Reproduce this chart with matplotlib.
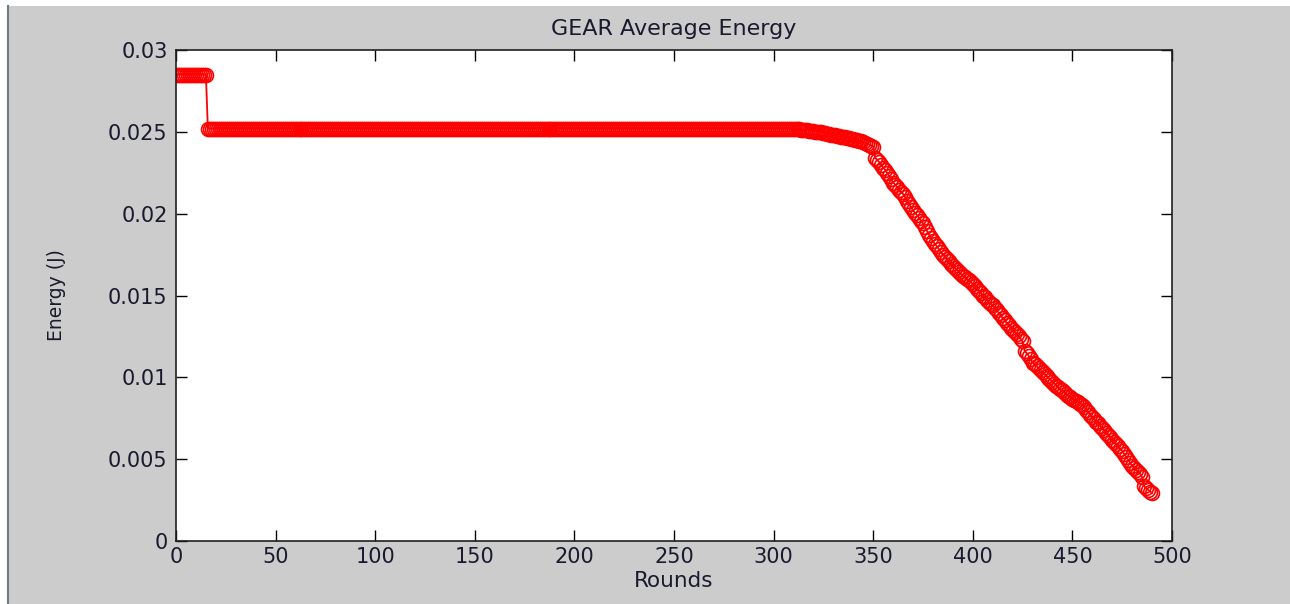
import matplotlib
matplotlib.use("Agg")
import matplotlib.pyplot as plt
from matplotlib.patches import Rectangle
from matplotlib.lines import Line2D
import numpy as np

plt.rcParams['font.family'] = ['DejaVu Sans']

title = "GEAR Average Energy"
x_label = "Rounds"
y_label = "Energy (J)"
x_ticks = [0, 50, 100, 150, 200, 250, 300, 350, 400, 450, 500]
y_ticks = [0, 0.005, 0.01, 0.015, 0.02, 0.025, 0.03]
y_tick_labels = ["0", "0.005", "0.01", "0.015", "0.02", "0.025", "0.03"]

# rounds 0-15 and 16-309 sit at flat levels
energy_start = [0.0285] * 16
energy_flat = [0.0252] * 294
# rounds 310-490
energy_tail = [
    0.02520, 0.02519, 0.02518, 0.02516, 0.02514, 0.02513, 0.02511, 0.02509, 0.02508, 0.02506,
    0.02505, 0.02502, 0.02500, 0.02498, 0.02496, 0.02494, 0.02491, 0.02489, 0.02486, 0.02483,
    0.02480, 0.02478, 0.02475, 0.02473, 0.02470, 0.02468, 0.02466, 0.02463, 0.02460, 0.02457,
    0.02455, 0.02452, 0.02448, 0.02445, 0.02442, 0.02439, 0.02434, 0.02428, 0.02422, 0.02416,
    0.02410, 0.02340, 0.02330, 0.02315, 0.02298, 0.02282, 0.02268, 0.02250, 0.02230, 0.02210,
    0.02190, 0.02178, 0.02162, 0.02145, 0.02132, 0.02120, 0.02102, 0.02080, 0.02060, 0.02040,
    0.02020, 0.02005, 0.01990, 0.01975, 0.01958, 0.01940, 0.01918, 0.01895, 0.01872, 0.01850,
    0.01830, 0.01815, 0.01800, 0.01782, 0.01765, 0.01750, 0.01738, 0.01722, 0.01708, 0.01694,
    0.01680, 0.01668, 0.01656, 0.01645, 0.01632, 0.01620, 0.01612, 0.01600, 0.01592, 0.01582,
    0.01570, 0.01556, 0.01542, 0.01528, 0.01515, 0.01500, 0.01488, 0.01475, 0.01462, 0.01450,
    0.01440, 0.01425, 0.01410, 0.01395, 0.01378, 0.01362, 0.01348, 0.01332, 0.01318, 0.01304,
    0.01290, 0.01278, 0.01265, 0.01250, 0.01236, 0.01220, 0.01162, 0.01148, 0.01132, 0.01110,
    0.01090, 0.01080, 0.01068, 0.01055, 0.01042, 0.01030, 0.01020, 0.01008, 0.00996, 0.00984,
    0.00972, 0.00962, 0.00950, 0.00940, 0.00930, 0.00920, 0.00910, 0.00898, 0.00888, 0.00878,
    0.00870, 0.00862, 0.00855, 0.00848, 0.00840, 0.00832, 0.00818, 0.00800, 0.00786, 0.00772,
    0.00760, 0.00745, 0.00730, 0.00718, 0.00705, 0.00690, 0.00676, 0.00662, 0.00650, 0.00636,
    0.00620, 0.00606, 0.00592, 0.00578, 0.00564, 0.00550, 0.00532, 0.00514, 0.00496, 0.00478,
    0.00460, 0.00448, 0.00436, 0.00424, 0.00410, 0.00390, 0.00335, 0.00322, 0.00312, 0.00302,
    0.00294,
]

energy = np.array(energy_start + energy_flat + energy_tail)
rounds = np.arange(len(energy))

W, H = 1290, 604
fig = plt.figure(figsize=(W / 100, H / 100), dpi=100, facecolor="white")

# grey MATLAB window background with thin white strip on top/left
fig.patches.append(Rectangle((8 / W, 0), 1 - 8 / W, 1 - 6 / H, transform=fig.transFigure,
                             facecolor="#cccccc", edgecolor="none", zorder=-10))
fig.lines.append(Line2D([7.5 / W, 7.5 / W], [0, 1 - 6 / H], transform=fig.transFigure,
                        color="#707880", lw=1.5))

left, right, top, bottom = 176, 1172, 50, 541
ax = fig.add_axes([left / W, 1 - bottom / H, (right - left) / W, (bottom - top) / H])
ax.set_facecolor("white")

ax.plot(rounds, energy, color="red", lw=1.3, marker="o", markersize=10,
        markerfacecolor="none", markeredgecolor="red", markeredgewidth=1.2)

ax.set_xlim(0, 500)
ax.set_ylim(0, 0.03)
ax.set_xticks(x_ticks)
ax.set_yticks(y_ticks)
ax.set_yticklabels(y_tick_labels)

txt_color = "#1a1a2e"
ax.tick_params(direction="in", length=8, width=1, top=True, right=True,
               labelsize=15, labelcolor=txt_color, pad=6)
ax.tick_params(axis="x", pad=4)
for s in ax.spines.values():
    s.set_linewidth(1.2)
    s.set_color("#202020")

ax.set_title(title, fontsize=16, color=txt_color, pad=11)
ax.set_xlabel(x_label, fontsize=15.5, color=txt_color, labelpad=3)
ax.set_ylabel(y_label, fontsize=13.5, color=txt_color, labelpad=30)

fig.savefig("out.png", dpi=100, facecolor=fig.get_facecolor())
